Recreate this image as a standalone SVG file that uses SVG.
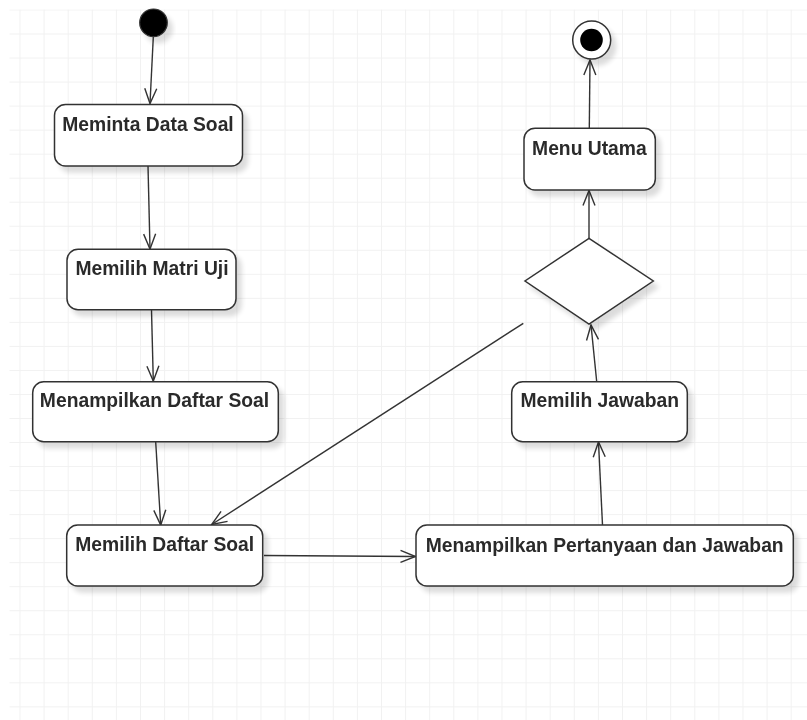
<svg xmlns="http://www.w3.org/2000/svg" width="807" height="720" viewBox="0 0 807 720">
  <style>
    .node { fill: #ffffff; stroke: #333333; stroke-width: 1.5; }
    .solid { fill: #000000; stroke: #333333; stroke-width: 1.2; }
    .label { font-family: "Liberation Sans", Arial, sans-serif; font-weight: bold; font-size: 19.3px; fill: #2b2b2b; text-anchor: middle; }
    .edge { fill: none; stroke: #333333; stroke-width: 1.4; marker-end: url(#open); }
  </style>
  <defs>
    <pattern id="grid" patternUnits="userSpaceOnUse" x="19.5" y="9.5" width="24.1" height="24.03">
      <rect x="0" y="0" width="24.1" height="1" fill="#f1f1f1"/>
      <rect x="0" y="0" width="1" height="24.03" fill="#f1f1f1"/>
    </pattern>
    <filter id="shadow" x="-20%" y="-20%" width="150%" height="160%">
      <feGaussianBlur in="SourceAlpha" stdDeviation="2.5"/>
      <feOffset dx="5" dy="6" result="b"/>
      <feComponentTransfer in="b" result="s">
        <feFuncA type="linear" slope="0.14"/>
      </feComponentTransfer>
      <feMerge>
        <feMergeNode in="s"/>
        <feMergeNode in="SourceGraphic"/>
      </feMerge>
    </filter>
    <marker id="open" markerUnits="userSpaceOnUse" markerWidth="20" markerHeight="16" refX="16" refY="8" orient="auto">
      <path d="M1,2 L16,8 L1,14" fill="none" stroke="#333333" stroke-width="1.4"/>
    </marker>
  </defs>

  <!-- canvas -->
  <rect x="0" y="0" width="807" height="720" fill="#ffffff"/>
  <rect x="9.5" y="9.5" width="797.5" height="710.5" fill="url(#grid)"/>

  <!-- connectors -->
  <g id="connectors">
    <path class="edge" d="M153.3,37 L150,103.5"/>
    <path class="edge" d="M148,166 L150,249"/>
    <path class="edge" d="M151.5,310 L153.3,381"/>
    <path class="edge" d="M155.7,442 L160.7,525"/>
    <path class="edge" d="M523.3,323.3 L211.7,524.5"/>
    <path class="edge" d="M264,555.5 L415.5,556.5"/>
    <path class="edge" d="M602.5,525 L598.5,442"/>
    <path class="edge" d="M596.7,381.5 L591,325"/>
    <path class="edge" d="M589,238 L589,190.5"/>
    <path class="edge" d="M589.3,128.3 L590,60"/>
  </g>

  <!-- start -->
  <g id="start" filter="url(#shadow)">
    <circle class="solid" cx="153.5" cy="22.8" r="13.8"/>
  </g>

  <g id="meminta-data-soal" filter="url(#shadow)">
    <rect class="node" x="54.5" y="104.5" width="188" height="61.5" rx="11"/>
    <text class="label" x="148" y="131">Meminta Data Soal</text>
  </g>

  <g id="memilih-matri-uji" filter="url(#shadow)">
    <rect class="node" x="67" y="249.3" width="169" height="60.5" rx="11"/>
    <text class="label" x="152" y="275.3">Memilih Matri Uji</text>
  </g>

  <g id="menampilkan-daftar-soal" filter="url(#shadow)">
    <rect class="node" x="32.7" y="381.7" width="245.6" height="60" rx="11"/>
    <text class="label" x="154.5" y="407">Menampilkan Daftar Soal</text>
  </g>

  <g id="memilih-daftar-soal" filter="url(#shadow)">
    <rect class="node" x="66.7" y="525" width="196" height="61" rx="11"/>
    <text class="label" x="164.7" y="551.3">Memilih Daftar Soal</text>
  </g>

  <g id="menampilkan-pertanyaan" filter="url(#shadow)">
    <rect class="node" x="416" y="525" width="377.3" height="61" rx="11"/>
    <text class="label" x="604.7" y="551.7">Menampilkan Pertanyaan dan Jawaban</text>
  </g>

  <g id="memilih-jawaban" filter="url(#shadow)">
    <rect class="node" x="511.7" y="381.7" width="175.6" height="60" rx="11"/>
    <text class="label" x="599.7" y="407">Memilih Jawaban</text>
  </g>

  <g id="keputusan" filter="url(#shadow)">
    <path class="node" d="M589,238.3 L653.3,281 L589,324 L525,281 Z"/>
  </g>

  <g id="menu-utama" filter="url(#shadow)">
    <rect class="node" x="524" y="128.3" width="131.3" height="61.7" rx="11"/>
    <text class="label" x="589.4" y="154.5">Menu Utama</text>
  </g>

  <!-- end -->
  <g id="end" filter="url(#shadow)">
    <circle class="node" cx="591.7" cy="40" r="19"/>
    <circle cx="591.5" cy="40" r="11.3" fill="#000000"/>
  </g>
</svg>
